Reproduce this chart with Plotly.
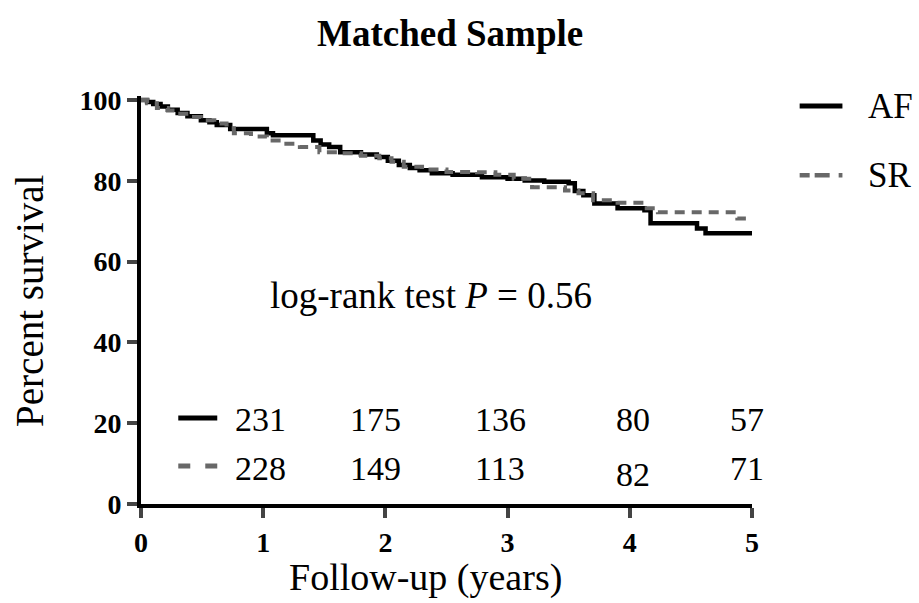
import plotly.graph_objects as go

# ---- data ----
af_time = [0, 0.05, 0.10, 0.16, 0.22, 0.30, 0.38, 0.49, 0.56, 0.62, 0.73, 1.03, 1.08, 1.41, 1.47,
           1.54, 1.63, 1.80, 1.93, 2.02, 2.11, 2.20, 2.28, 2.38, 2.55, 2.79, 3.00, 3.14, 3.30,
           3.50, 3.55, 3.62, 3.71, 3.90, 4.12, 4.17, 4.55, 4.62, 5.0]
af_surv = [100, 99.5, 99.0, 98.4, 97.6, 96.8, 96.0, 95.0, 94.5, 93.8, 92.8, 91.8, 91.3, 90.0, 89.0,
           88.4, 87.1, 86.5, 85.9, 85.0, 83.9, 83.2, 82.6, 81.9, 81.5, 80.9, 80.5, 80.1, 79.8,
           79.4, 77.5, 76.4, 74.4, 73.2, 72.7, 69.5, 68.2, 67.0, 67.0]

sr_time = [0, 0.05, 0.13, 0.22, 0.30, 0.40, 0.49, 0.60, 0.70, 0.76, 0.90, 1.03, 1.15, 1.30, 1.46,
           1.63, 1.80, 1.95, 2.05, 2.15, 2.30, 2.50, 2.75, 2.90, 3.05, 3.20, 3.47, 3.58, 3.70,
           3.90, 4.12, 4.23, 4.88, 4.95]
sr_surv = [100, 99.2, 98.0, 97.4, 96.6, 95.8, 95.0, 94.2, 93.0, 91.8, 91.0, 90.0, 89.2, 88.4, 87.1,
           86.8, 86.2, 85.6, 84.7, 83.5, 82.8, 82.2, 82.1, 81.5, 80.5, 78.4, 77.6, 76.9, 75.2,
           74.6, 73.2, 72.2, 70.7, 70.7]

risk_x = [0.975, 1.92, 2.94, 4.03, 4.96]
af_risk = ["231", "175", "136", "80", "57"]
sr_risk = ["228", "149", "113", "82", "71"]
risk_y_af = [20.8, 20.8, 20.8, 20.8, 20.8]
risk_y_sr = [8.9, 8.9, 8.9, 7.4, 8.9]

x_ticks = [0, 1, 2, 3, 4, 5]
y_ticks = [0, 20, 40, 60, 80, 100]

title_text = "Matched Sample"
x_title = "Follow-up (years)"
y_title = "Percent survival"
test_text = "log-rank test <i>P</i> = 0.56"

SERIF = "Liberation Serif"
GRAY = "#686868"

fig = go.Figure()
fig.add_trace(go.Scatter(x=af_time, y=af_surv, mode="lines", line_shape="hv",
                         line=dict(color="black", width=4.5), name="AF", showlegend=False))
fig.add_trace(go.Scatter(x=sr_time, y=sr_surv, mode="lines", line_shape="hv",
                         line=dict(color=GRAY, width=4, dash="10px,7px"), name="SR", showlegend=False))

# number at risk
for xv, t, yv in zip(risk_x, af_risk, risk_y_af):
    fig.add_annotation(x=xv, y=yv, text=t, showarrow=False, xref="x", yref="y",
                       font=dict(family=SERIF, size=34, color="black"))
for xv, t, yv in zip(risk_x, sr_risk, risk_y_sr):
    fig.add_annotation(x=xv, y=yv, text=t, showarrow=False, xref="x", yref="y",
                       font=dict(family=SERIF, size=34, color="black"))

# small line samples in the risk table
fig.add_shape(type="line", x0=0.305, x1=0.624, y0=21.3, y1=21.3, xref="x", yref="y",
              line=dict(color="black", width=5))
fig.add_shape(type="line", x0=0.305, x1=0.624, y0=9.4, y1=9.4, xref="x", yref="y",
              line=dict(color=GRAY, width=5, dash="12px,15px,12px,40px"))

fig.add_annotation(x=2.37, y=51.7, text=test_text, showarrow=False, xref="x", yref="y",
                   font=dict(family=SERIF, size=37, color="black"))

# legend (right side)
fig.add_shape(type="line", x0=1.078, x1=1.148, y0=98.5, y1=98.5, xref="paper", yref="y",
              line=dict(color="black", width=5))
fig.add_shape(type="line", x0=1.078, x1=1.148, y0=81.4, y1=81.4, xref="paper", yref="y",
              line=dict(color=GRAY, width=4.5, dash="10px,5px,15px,9px,4px,60px"))
fig.add_annotation(x=1.186, y=98.5, text="AF", showarrow=False, xref="paper", yref="y",
                   xanchor="left", font=dict(family=SERIF, size=35, color="black"))
fig.add_annotation(x=1.186, y=81.4, text="SR", showarrow=False, xref="paper", yref="y",
                   xanchor="left", font=dict(family=SERIF, size=35, color="black"))

# titles as annotations
fig.add_annotation(x=0.506, y=1.154, text="<b>" + title_text + "</b>", showarrow=False,
                   xref="paper", yref="paper", xanchor="center", yanchor="middle",
                   font=dict(family=SERIF, size=37, color="black"))
fig.add_annotation(x=-0.1835, y=0.5, text=y_title, showarrow=False, textangle=-90,
                   xref="paper", yref="paper", xanchor="center", yanchor="middle",
                   font=dict(family=SERIF, size=39, color="black"))
fig.add_annotation(x=0.465, y=-0.18, text=x_title, showarrow=False,
                   xref="paper", yref="paper", xanchor="center", yanchor="middle",
                   font=dict(family=SERIF, size=38, color="black"))

fig.update_layout(
    width=919, height=603,
    paper_bgcolor="white", plot_bgcolor="white",
    margin=dict(l=141, r=167, t=96, b=99, autoexpand=False),
    xaxis=dict(range=[0, 5], tickvals=x_ticks, ticks="outside", ticklen=10, tickwidth=4,
               showline=True, linewidth=4, linecolor="black", showgrid=False, zeroline=False,
               automargin=False,
               tickfont=dict(family=SERIF, size=28, color="black", weight="bold")),
    yaxis=dict(range=[0, 101], tickvals=y_ticks, ticks="outside", ticklen=10, tickwidth=4,
               showline=True, linewidth=4, linecolor="black", showgrid=False, zeroline=False,
               automargin=False,
               tickfont=dict(family=SERIF, size=28, color="black", weight="bold")),
)

fig.write_html("out.html", config={"displayModeBar": False},
               post_script="document.body.style.margin='0';document.body.style.overflow='hidden';")
